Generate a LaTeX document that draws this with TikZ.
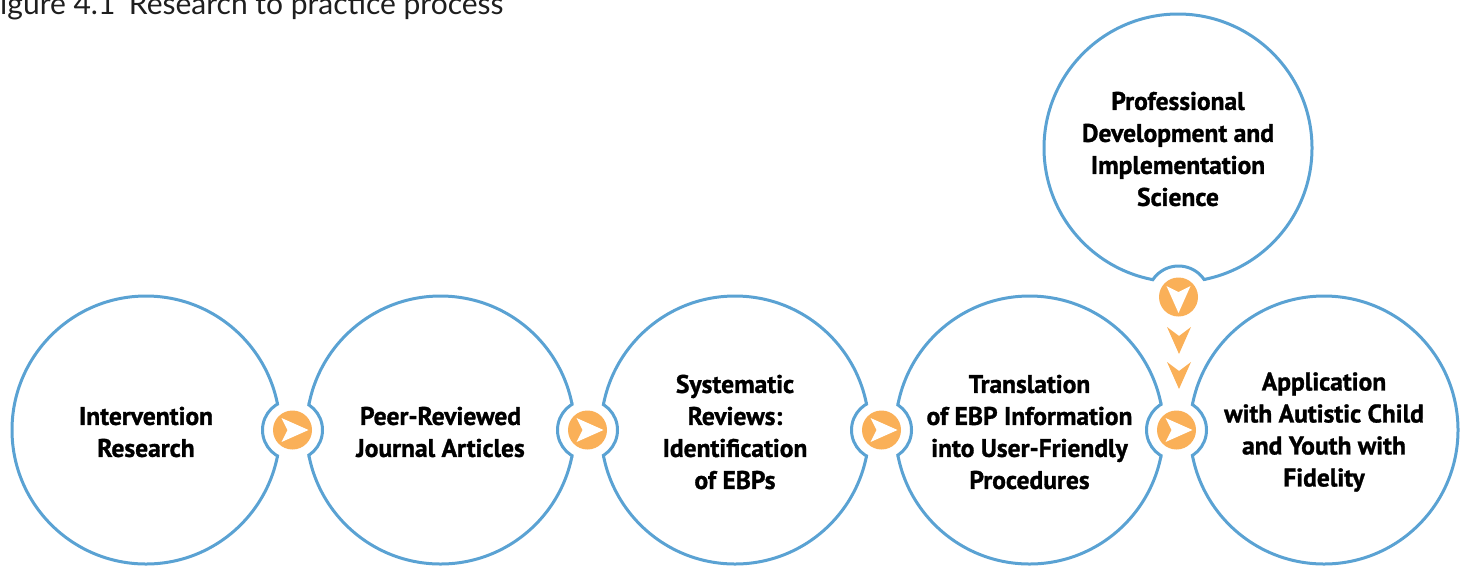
\documentclass[tikz,border=0pt]{standalone}
\usepackage{fontspec}
\setmainfont{PT Sans}
\newfontfamily\heavyfont[FakeBold=1.2]{PT Sans Bold}
\newfontfamily\titlefont{Lato}
\definecolor{ringblue}{RGB}{90,162,211}
\definecolor{arrorange}{RGB}{250,176,88}
\definecolor{titlegray}{RGB}{30,30,30}
\tikzset{
  outline/.style={draw=ringblue, line width=3pt},
  circtext/.style={font=\heavyfont\fontsize{25.5}{32}\selectfont, align=center, text=black, inner sep=0pt},
  conn/.style={circle, fill=arrorange, minimum size=39pt, inner sep=0pt},
  notchring/.style={draw=ringblue, line width=3pt},
  dartfill/.style={fill=white},
  chevfill/.style={fill=arrorange},
}
\begin{document}
\begin{tikzpicture}[x=1pt,y=-1pt]
\useasboundingbox (0,0) rectangle (1463,566);
\clip (0,0) rectangle (1463,566);
% circle centres
\coordinate (c1) at (146,430);
\coordinate (c2) at (440.5,430);
\coordinate (c3) at (735,430);
\coordinate (c4) at (1029.5,430);
\coordinate (c5) at (1324,430);
\coordinate (c6) at (1178,148);
% big circles
\foreach \c in {c1,c2,c3,c4,c5,c6}{\draw[outline] (\c) circle (134);}
% connectors
\node[conn] (k1) at (292.5,430) {};
\node[conn] (k2) at (587.5,430) {};
\node[conn] (k3) at (881.5,430) {};
\node[conn] (k4) at (1176.5,430) {};
\node[conn] (k5) at (1178.5,297) {};
% notches: erase, then draw ring inside neighbours
\foreach \k in {k1,k2,k3,k4,k5}{\fill[white] (\k.center) circle (30);}
\foreach \k/\a/\b in {k1/c1/c2,k2/c2/c3,k3/c3/c4,k4/c4/c5}{
  \begin{scope}
    \clip (\a) circle (135.5) (\b) circle (135.5);
    \draw[notchring] (\k.center) circle (30);
  \end{scope}
}
\begin{scope}
  \clip (c6) circle (135.5);
  \draw[notchring] (k5.center) circle (31);
\end{scope}
% orange connector discs
\foreach \k in {k1,k2,k3,k4,k5}{\fill[arrorange] (\k.center) circle (19.5);}
% white darts, pointing right
\foreach \k in {k1,k2,k3,k4}{
  \fill[dartfill] ([shift={(-11,-12)}]\k.center) -- ([shift={(16,0)}]\k.center)
    -- ([shift={(-11,12)}]\k.center) -- ([shift={(-5,0)}]\k.center) -- cycle;
}
% white dart, pointing down
\fill[dartfill] ([shift={(-12,-11)}]k5.center) -- ([shift={(0,-5)}]k5.center)
  -- ([shift={(12,-11)}]k5.center) -- ([shift={(0,16)}]k5.center) -- cycle;
% orange chevrons between k5 and k4
\coordinate (h1) at (1179,327);
\coordinate (h2) at (1179,362);
\foreach \h in {h1,h2}{
  \fill[chevfill] ([shift={(-12,0)}]\h) -- ([shift={(0,9)}]\h)
    -- ([shift={(12,0)}]\h) -- ([shift={(0,27)}]\h) -- cycle;
}
% texts
\node[circtext] (t1) at ([yshift=-2]c1) {Intervention\\Research};
\node[circtext] (t2) at ([yshift=-2]c2) {Peer-Reviewed\\Journal Articles};
\node[circtext] (t3) at ([yshift=-2]c3) {Systematic\\Reviews:\\Identification\\of EBPs};
\node[circtext] (t4) at ([yshift=-2]c4) {Translation\\of EBP Information\\into User-Friendly\\Procedures};
\node[circtext] (t5) at ([yshift=-2]c5) {Application\\with Autistic Child\\and Youth with\\Fidelity};
\node[circtext] (t6) at ([yshift=-1]c6) {Professional\\Development and\\Implementation\\Science};
% title
\node[anchor=base west, inner sep=0pt, font=\titlefont\fontsize{30}{30}\selectfont, text=titlegray] (title) at (0,14)
  {\llap{F}igure 4.1\hspace{0.45em}Research to practice process};
\end{tikzpicture}
\end{document}
